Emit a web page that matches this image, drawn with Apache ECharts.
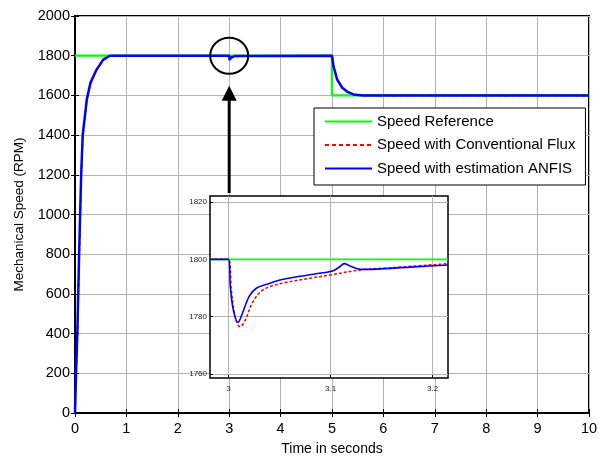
<!DOCTYPE html>
<html>
<head>
<meta charset="utf-8">
<script src="https://cdn.jsdelivr.net/npm/echarts@6/dist/echarts.min.js"></script>
<style>html,body{margin:0;padding:0;background:#fff}#c{width:611px;height:461px}</style>
</head>
<body>
<div id="c"></div>
<script>
// ---- Data ----
var seriesNames = ['Speed Reference', 'Speed with Conventional Flux', 'Speed with estimation ANFIS'];
var xTicksMain = [0, 1, 2, 3, 4, 5, 6, 7, 8, 9, 10];
var yTicksMain = [0, 200, 400, 600, 800, 1000, 1200, 1400, 1600, 1800, 2000];
var xTicksInset = [3, 3.1, 3.2];
var yTicksInset = [1760, 1780, 1800, 1820];

var refTime = [0, 5, 5, 10];
var refSpeed = [1800, 1800, 1600, 1600];

var mainTime = [0, 0.02, 0.045, 0.08, 0.12, 0.15, 0.23, 0.30, 0.42, 0.55, 0.68, 3.0, 3.009, 3.03, 3.11, 3.2, 5.0, 5.03, 5.1, 5.2, 5.3, 5.42, 5.6, 10];
var convMain = [0, 180, 370, 760, 1180, 1390, 1575, 1660, 1728, 1779, 1799, 1800, 1776.5, 1788.5, 1795, 1798, 1800, 1748, 1682, 1640, 1619, 1605, 1600, 1600];
var anfisMain = [0, 200, 400, 800, 1200, 1400, 1580, 1663, 1730, 1780, 1800, 1800, 1778, 1790, 1798, 1798, 1800, 1746, 1680, 1638, 1618, 1605, 1600, 1600];

var insetRefTime = [2.982, 3.215];
var insetRefSpeed = [1800, 1800];

var convInsetTime = [2.982, 3.0, 3.003, 3.007, 3.0114, 3.0163, 3.0228, 3.031, 3.0407, 3.057, 3.0798, 3.099, 3.129, 3.161, 3.215];
var convInset = [1800, 1800, 1789, 1779.5, 1776.5, 1778.6, 1784.4, 1788.5, 1790.5, 1792.0, 1793.4, 1794.5, 1796.3, 1797.1, 1798.5];

var anfisInsetTime = [2.982, 3.0, 3.002, 3.005, 3.0095, 3.013, 3.0205, 3.0277, 3.0375, 3.0505, 3.07, 3.096, 3.1026, 3.109, 3.1134, 3.119, 3.129, 3.145, 3.178, 3.215];
var anfisInset = [1800, 1800, 1790, 1782, 1778.0, 1780.5, 1787.2, 1790.0, 1791.3, 1792.8, 1794.1, 1795.5, 1796.0, 1797.4, 1798.5, 1797.7, 1796.5, 1796.6, 1797.3, 1798.0];

function zip(a, b) { return a.map(function (v, i) { return [v, b[i]]; }); }
function plain(v) { return String(v); }

var FONT = '"Liberation Sans", Arial, sans-serif';
var GREEN = '#00ff00', RED = '#ff0000', BLUE = '#0000ff';
var gridColor = '#b4b4b4';

var chart = echarts.init(document.getElementById('c'));
var option = {
  animation: false,
  backgroundColor: '#fff',
  textStyle: { fontFamily: FONT },
  grid: [
    { left: 75, top: 16, width: 514, height: 400, show: true, borderColor: '#000', borderWidth: 2, backgroundColor: 'transparent', z: 0 },
    { left: 210, top: 196, width: 238, height: 182, show: true, borderColor: '#000', borderWidth: 1.5, backgroundColor: '#fff', z: 3 }
  ],
  xAxis: [
    { type: 'value', gridIndex: 0, min: 0, max: 10, interval: 1,
      axisLine: { show: true, lineStyle: { color: '#000', width: 2 } },
      axisTick: { show: true, inside: true, length: 4, lineStyle: { color: '#000' } },
      axisLabel: { color: '#000', fontSize: 14.5, fontFamily: FONT, margin: 8, formatter: plain },
      splitLine: { show: true, lineStyle: { color: gridColor, width: 1 } },
      name: 'Time in seconds', nameLocation: 'middle', nameGap: 29,
      nameTextStyle: { color: '#000', fontSize: 14, fontFamily: FONT }, z: 0 },
    { type: 'value', gridIndex: 0, min: 0, max: 10, interval: 1, position: 'top',
      axisLine: { show: false }, axisTick: { show: true, inside: true, length: 4, lineStyle: { color: '#000' } },
      axisLabel: { show: false }, splitLine: { show: false }, z: 0 },
    { type: 'value', gridIndex: 1, min: 2.982, max: 3.215,
      axisLine: { show: false },
      axisTick: { show: true, inside: true, length: 3, customValues: xTicksInset, lineStyle: { color: '#000' } },
      axisLabel: { color: '#222', fontSize: 8, fontFamily: FONT, margin: 7, customValues: xTicksInset, formatter: plain },
      splitLine: { show: true, lineStyle: { color: gridColor, width: 1 } }, z: 4 }
  ],
  yAxis: [
    { type: 'value', gridIndex: 0, min: 0, max: 2000, interval: 200,
      axisLine: { show: true, lineStyle: { color: '#000', width: 2 } },
      axisTick: { show: true, inside: true, length: 4, lineStyle: { color: '#000' } },
      axisLabel: { color: '#000', fontSize: 14.5, fontFamily: FONT, margin: 5, formatter: plain },
      splitLine: { show: true, lineStyle: { color: gridColor, width: 1 } },
      name: 'Mechanical Speed (RPM)', nameLocation: 'middle', nameGap: 49,
      nameTextStyle: { color: '#000', fontSize: 13.5, fontFamily: FONT }, z: 0 },
    { type: 'value', gridIndex: 0, min: 0, max: 2000, interval: 200, position: 'right',
      axisLine: { show: false }, axisTick: { show: true, inside: true, length: 4, lineStyle: { color: '#000' } },
      axisLabel: { show: false }, splitLine: { show: false }, z: 0 },
    { type: 'value', gridIndex: 1, min: 1758.6, max: 1822.1,
      axisLine: { show: false },
      axisTick: { show: true, inside: true, length: 3, customValues: yTicksInset, lineStyle: { color: '#000' } },
      axisLabel: { color: '#222', fontSize: 8, fontFamily: FONT, margin: 3, customValues: yTicksInset, formatter: plain },
      splitLine: { show: true, lineStyle: { color: gridColor, width: 1 } }, z: 4 }
  ],
  legend: {
    orient: 'vertical', left: 314, top: 108,
    data: seriesNames,
    backgroundColor: '#fff', borderColor: '#000', borderWidth: 1,
    padding: [6, 10, 9, 10], itemWidth: 47, itemHeight: 14, itemGap: 8.5,
    textStyle: { color: '#000', fontSize: 15, fontFamily: FONT },
    itemStyle: { opacity: 0 },
    selectedMode: false, z: 6
  },
  series: [
    { name: seriesNames[0], type: 'line', xAxisIndex: 0, yAxisIndex: 0, data: zip(refTime, refSpeed), symbol: 'none', lineStyle: { color: GREEN, width: 2.2 }, itemStyle: { color: GREEN }, z: 2 },
    { name: seriesNames[1], type: 'line', xAxisIndex: 0, yAxisIndex: 0, data: zip(mainTime, convMain), symbol: 'none', lineStyle: { color: RED, width: 1.6, type: [4, 3] }, itemStyle: { color: RED }, z: 2 },
    { name: seriesNames[2], type: 'line', xAxisIndex: 0, yAxisIndex: 0, data: zip(mainTime, anfisMain), symbol: 'none', lineStyle: { color: BLUE, width: 2.5 }, itemStyle: { color: BLUE }, z: 2 },
    { name: seriesNames[0], type: 'line', xAxisIndex: 2, yAxisIndex: 2, data: zip(insetRefTime, insetRefSpeed), symbol: 'none', lineStyle: { color: GREEN, width: 1.8 }, z: 5 },
    { name: seriesNames[1], type: 'line', xAxisIndex: 2, yAxisIndex: 2, data: zip(convInsetTime, convInset), symbol: 'none', smooth: 0.35, lineStyle: { color: RED, width: 1.5, type: [3, 2] }, z: 5 },
    { name: seriesNames[2], type: 'line', xAxisIndex: 2, yAxisIndex: 2, data: zip(anfisInsetTime, anfisInset), symbol: 'none', smooth: 0.35, lineStyle: { color: BLUE, width: 1.6 }, z: 5 }
  ]
};
chart.setOption(option);

// annotation: circle around the dip at t=3 and arrow pointing to the inset
var c = chart.convertToPixel({ xAxisIndex: 0, yAxisIndex: 0 }, [3, 1800]);
var cx = c[0], cy = c[1];
var insetTop = 196;
chart.setOption({
  graphic: [
    { type: 'ellipse', shape: { cx: cx, cy: cy, rx: 19, ry: 18 }, style: { fill: 'none', stroke: '#000', lineWidth: 2 }, z: 10 },
    { type: 'line', shape: { x1: cx, y1: cy + 44, x2: cx, y2: insetTop - 3 }, style: { stroke: '#000', lineWidth: 3 }, z: 10 },
    { type: 'polygon', shape: { points: [[cx - 7.5, cy + 45], [cx + 7.5, cy + 45], [cx, cy + 30]] }, style: { fill: '#000' }, z: 10 }
  ]
});
</script>
</body>
</html>
